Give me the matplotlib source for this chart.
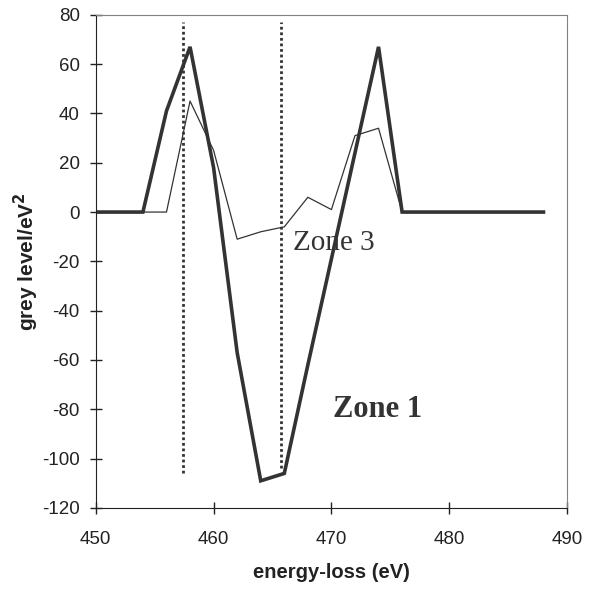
import numpy as np
import matplotlib
matplotlib.use("Agg")
import matplotlib.pyplot as plt

# energy axis (eV), sampled every 2 eV
energy = [450, 452, 454, 456, 458, 460, 462, 464, 466, 468, 470, 472, 474,
          476, 478, 480, 482, 484, 486, 488]

# Zone 1 (thick) and Zone 3 (thin) second-derivative curves
zone1 = [0, 0, 0, 41, 67, 18, -57, -109, -106, -62, -19, 24, 67,
         0, 0, 0, 0, 0, 0, 0]
zone3 = [0, 0, 0, 0, 45, 25, -11, -8, -6, 6, 1, 31, 34,
         0, 0, 0, 0, 0, 0, 0]

# dotted reference lines
vlines_x = [457.4, 465.7]
vlines_top = [77, 77]
vlines_bottom = [-106, -104]

xticks = [450, 460, 470, 480, 490]
yticks = [-120, -100, -80, -60, -40, -20, 0, 20, 40, 60, 80]

plt.rcParams["font.family"] = ["Liberation Sans", "DejaVu Sans"]
plt.rcParams["axes.unicode_minus"] = False

fig = plt.figure(figsize=(5.95, 5.92), dpi=100)
ax = fig.add_axes([0.161, 0.142, 0.792, 0.833])

line_col = "#333333"
ax.plot(energy, zone1, color=line_col, linewidth=2.6, solid_joinstyle="miter")
ax.plot(energy, zone3, color=line_col, linewidth=0.9)

for x, y0, y1 in zip(vlines_x, vlines_bottom, vlines_top):
    ax.plot([x, x], [y0, y1], color=line_col, linestyle=(0, (1, 1)),
            linewidth=2.0)

ax.text(466.7, -12.5, "Zone 3", family="Liberation Serif", fontsize=21,
        color=line_col, va="center", ha="left")
ax.text(470.1, -80, "Zone 1", family="Liberation Serif", fontsize=22,
        fontweight="bold", color=line_col, va="center", ha="left")

ax.set_xlim(450, 490)
ax.set_ylim(-120, 80)
ax.set_xticks(xticks)
ax.set_yticks(yticks)
ax.tick_params(direction="inout", length=9, width=1, labelsize=13.5,
               colors="#222222")
ax.tick_params(axis="x", pad=12)
ax.tick_params(axis="y", pad=7)

for side in ["left", "bottom"]:
    ax.spines[side].set_color("#222222")
for side in ["top", "right"]:
    ax.spines[side].set_color("#8a7f7f")

ax.set_xlabel("energy-loss (eV)", fontsize=14.5, fontweight="bold",
              color="#222222", labelpad=11)
ax.set_ylabel("grey level/eV$^\\mathbf{2}$", fontsize=15, fontweight="bold",
              color="#222222", labelpad=1)

fig.savefig("out.png", dpi=100)
